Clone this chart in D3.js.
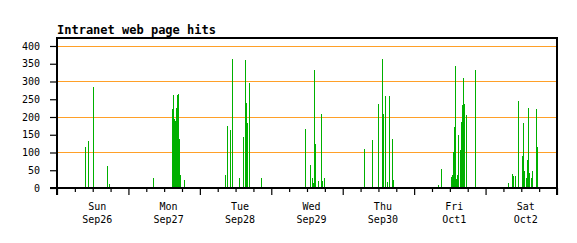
<!DOCTYPE html>
<html>
<head>
<meta charset="utf-8">
<script src="https://cdn.jsdelivr.net/npm/d3@7"></script>
<style>
  html, body { margin: 0; padding: 0; background: #fff; }
  svg { display: block; }
</style>
</head>
<body>
<svg id="chart" width="577" height="243"></svg>
<script>
// ── Data (20-minute buckets) ──
const chartTitle = 'Intranet web page hits';

const hitTimes = [
  // Sun Sep26
  '2004-09-26 09:40', '2004-09-26 10:40', '2004-09-26 12:20', '2004-09-26 17:00', '2004-09-26 17:40',
  // Mon Sep27
  '2004-09-27 08:20', '2004-09-27 14:40', '2004-09-27 15:00', '2004-09-27 15:20', '2004-09-27 15:40',
  '2004-09-27 16:00', '2004-09-27 16:20', '2004-09-27 16:40', '2004-09-27 17:00', '2004-09-27 17:20',
  '2004-09-27 19:00',
  // Tue Sep28
  '2004-09-28 08:40', '2004-09-28 09:20', '2004-09-28 10:20', '2004-09-28 11:00', '2004-09-28 13:20',
  '2004-09-28 14:40', '2004-09-28 15:20', '2004-09-28 15:40', '2004-09-28 16:00', '2004-09-28 16:40',
  '2004-09-28 20:40',
  // Wed Sep29
  '2004-09-29 11:20', '2004-09-29 13:20', '2004-09-29 14:00', '2004-09-29 14:20', '2004-09-29 14:40',
  '2004-09-29 15:00', '2004-09-29 16:00', '2004-09-29 17:00', '2004-09-29 17:20', '2004-09-29 18:00',
  // Thu Sep30
  '2004-09-30 07:20', '2004-09-30 10:00', '2004-09-30 12:00', '2004-09-30 13:20', '2004-09-30 13:40',
  '2004-09-30 14:20', '2004-09-30 15:00', '2004-09-30 15:40', '2004-09-30 16:40', '2004-09-30 17:00',
  // Fri Oct1
  '2004-10-01 08:20', '2004-10-01 09:20', '2004-10-01 12:40', '2004-10-01 13:00', '2004-10-01 13:20',
  '2004-10-01 13:40', '2004-10-01 14:00', '2004-10-01 14:20', '2004-10-01 14:40', '2004-10-01 15:00',
  '2004-10-01 15:40', '2004-10-01 16:00', '2004-10-01 16:20', '2004-10-01 16:40', '2004-10-01 17:00',
  '2004-10-01 17:40', '2004-10-01 20:40',
  // Sat Oct2
  '2004-10-02 07:40', '2004-10-02 09:00', '2004-10-02 09:20', '2004-10-02 10:00', '2004-10-02 11:00',
  '2004-10-02 12:20', '2004-10-02 12:40', '2004-10-02 13:00', '2004-10-02 13:40', '2004-10-02 14:00',
  '2004-10-02 14:20', '2004-10-02 14:40', '2004-10-02 15:20', '2004-10-02 15:40', '2004-10-02 17:00',
  '2004-10-02 17:20'
];

const hitCounts = [
  115, 132, 285, 63, 11,
  29, 222, 262, 194, 190, 226, 262, 266, 139, 37, 22,
  37, 175, 163, 363, 28, 144, 360, 239, 183, 296, 28,
  166, 65, 28, 14, 332, 124, 20, 208, 20, 28,
  110, 135, 237, 363, 208, 259, 17, 259, 138, 22,
  8, 53, 31, 37, 101, 172, 344, 25, 37, 149, 107, 186, 234, 310, 237, 206, 332,
  14, 39, 34, 34, 245, 90, 183, 48, 28, 79, 225, 42, 28, 48, 222, 115
];

const dayStarts = ['2004-09-26', '2004-09-27', '2004-09-28', '2004-09-29', '2004-09-30', '2004-10-01', '2004-10-02'];
const dayNames = ['Sun', 'Mon', 'Tue', 'Wed', 'Thu', 'Fri', 'Sat'];
const dayDates = ['Sep26', 'Sep27', 'Sep28', 'Sep29', 'Sep30', 'Oct1', 'Oct2'];
const rangeEnd = '2004-10-03';

const yTicks = [0, 50, 100, 150, 200, 250, 300, 350, 400];
const gridValues = [100, 200, 300, 400];

// ── Setup ──
const parseTime = d3.utcParse('%Y-%m-%d %H:%M');
const parseDay = d3.utcParse('%Y-%m-%d');
const FONT = '"DejaVu Sans Mono", "Liberation Mono", monospace';
const GREEN = '#00b000';
const ORANGE = '#ffa028';

const plot = { left: 57, right: 557, top: 38, bottom: 188 };

const svg = d3.select('#chart');

const x = d3.scaleUtc()
  .domain([parseDay(dayStarts[0]), parseDay(rangeEnd)])
  .range([plot.left, plot.right]);

const y = d3.scaleLinear()
  .domain([0, 422.5])
  .range([plot.bottom, plot.top]);

const bars = hitTimes.map((t, i) => ({ t: parseTime(t), v: hitCounts[i] }));

/* ── Title ── */
svg.append('text')
  .attr('x', plot.left)
  .attr('y', 34)
  .attr('font-family', FONT)
  .attr('font-size', 12)
  .attr('font-weight', 'bold')
  .attr('fill', '#000')
  .text(chartTitle);

/* ── Grid lines ── */
svg.append('g')
  .selectAll('line')
  .data(gridValues)
  .join('line')
  .attr('x1', plot.left)
  .attr('x2', plot.right)
  .attr('y1', (d) => Math.round(y(d)) + 0.5)
  .attr('y2', (d) => Math.round(y(d)) + 0.5)
  .attr('stroke', ORANGE)
  .attr('stroke-width', 1);

/* ── Bars ── */
svg.append('g')
  .attr('shape-rendering', 'crispEdges')
  .selectAll('rect')
  .data(bars)
  .join('rect')
  .attr('x', (d) => Math.floor(x(d.t)))
  .attr('y', (d) => Math.round(y(d.v)))
  .attr('width', 1)
  .attr('height', (d) => plot.bottom - Math.round(y(d.v)))
  .attr('fill', GREEN);

/* ── Y axis ── */
svg.append('g')
  .attr('transform', `translate(${plot.left},0)`)
  .call(d3.axisLeft(y).tickValues(yTicks).tickSize(7).tickPadding(10).tickSizeOuter(0))
  .call((a) => a.select('.domain').remove())
  .call((a) => a.selectAll('line').attr('stroke', '#000').attr('stroke-width', 1.2))
  .call((a) => a.selectAll('text')
    .attr('font-family', FONT)
    .attr('font-size', 10)
    .attr('fill', '#000'));

/* ── X axis: 6-hour minor ticks, long ticks at midnight ── */
const xTicks = d3.utcHour.every(6).range(parseDay(dayStarts[0]), d3.utcHour.offset(parseDay(rangeEnd), 1));
svg.append('g')
  .attr('transform', `translate(0,${plot.bottom})`)
  .call(d3.axisBottom(x).tickValues(xTicks).tickSize(4).tickFormat('').tickSizeOuter(0))
  .call((a) => a.select('.domain').remove())
  .call((a) => a.selectAll('.tick line')
    .attr('stroke', '#000')
    .attr('stroke-width', 1.2)
    .attr('y2', (d) => d.getUTCHours() === 0 ? 7 : 4));

/* ── Frame ── */
const frame = svg.append('g').attr('stroke', '#000').attr('stroke-width', 2);
frame.append('line').attr('x1', plot.left - 1).attr('x2', plot.right + 1).attr('y1', plot.top).attr('y2', plot.top);
frame.append('line').attr('x1', plot.left - 7).attr('x2', plot.right + 1).attr('y1', plot.bottom).attr('y2', plot.bottom);
frame.append('line').attr('x1', plot.left).attr('x2', plot.left).attr('y1', plot.top).attr('y2', plot.bottom + 7);
frame.append('line').attr('x1', plot.right).attr('x2', plot.right).attr('y1', plot.top).attr('y2', plot.bottom + 7);

/* ── Day labels ── */
const dayLabel = svg.append('g')
  .attr('font-family', FONT)
  .attr('font-size', 10)
  .attr('fill', '#000')
  .attr('text-anchor', 'middle')
  .selectAll('text')
  .data(dayStarts)
  .join('text')
  .attr('transform', (d) => `translate(${x(d3.utcMinute.offset(parseDay(d), 810))},0)`);

dayLabel.append('tspan').attr('x', 0).attr('y', 209.5).text((d, i) => dayNames[i]);
dayLabel.append('tspan').attr('x', 0).attr('y', 223).text((d, i) => dayDates[i]);
</script>
</body>
</html>
